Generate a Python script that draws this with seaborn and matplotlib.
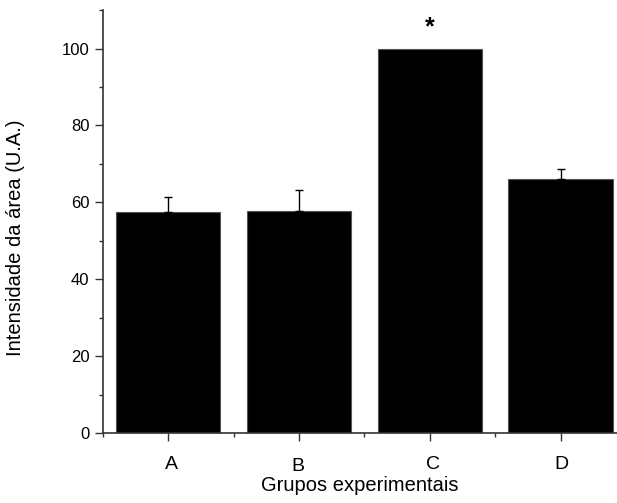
import matplotlib
matplotlib.use("Agg")
import matplotlib.pyplot as plt
import matplotlib.transforms as mtransforms
import seaborn as sns
import pandas as pd
from matplotlib.ticker import FixedLocator

groups = ["A", "B", "C", "D"]
values = [57.4, 57.7, 100.0, 66.0]
errors = [3.9, 5.5, 0.0, 2.6]

sns.set_style("ticks")
plt.rcParams["font.family"] = ["Liberation Sans", "DejaVu Sans"]
plt.rcParams["text.color"] = "black"
plt.rcParams["axes.labelcolor"] = "black"
plt.rcParams["xtick.labelcolor"] = "black"
plt.rcParams["ytick.labelcolor"] = "black"

df = pd.DataFrame({"grupo": groups, "valor": values})

fig = plt.figure(figsize=(6.17, 5.03), dpi=100)
ax = fig.add_axes([0.1664, 0.1386, 1.0 - 0.1664, 0.980 - 0.1386])

sns.barplot(data=df, x="grupo", y="valor", color="black", width=0.8,
            edgecolor="#555555", linewidth=0.8, saturation=1, ax=ax, errorbar=None)

ex = [i for i, e in enumerate(errors) if e > 0]
ey = [values[i] for i in ex]
ee = [errors[i] for i in ex]
ax.errorbar(ex, ey, yerr=[[0]*len(ee), ee],
            fmt="none", ecolor="black", elinewidth=1.0, capsize=3, capthick=1.0, zorder=5)

ax.text(2, 105.5, "*", ha="center", va="center", fontsize=18, fontweight="bold")

ax.set_ylim(0, 110)
ax.set_xlim(-0.5, 3.43)
ax.yaxis.set_major_locator(FixedLocator([0, 20, 40, 60, 80, 100]))
ax.yaxis.set_minor_locator(FixedLocator([10, 30, 50, 70, 90, 110]))
ax.xaxis.set_minor_locator(FixedLocator([-0.5, 0.5, 1.5, 2.5]))

for s in ["top", "right"]:
    ax.spines[s].set_visible(False)
for s in ["left", "bottom"]:
    ax.spines[s].set_color("#333333")
    ax.spines[s].set_linewidth(1.2)

ax.tick_params(axis="both", which="major", direction="out", length=5.5, width=1.0, color="#333333")
ax.tick_params(axis="both", which="minor", direction="out", length=3, width=1.0, color="#333333")
ax.tick_params(axis="y", labelsize=12, pad=4)
ax.tick_params(axis="x", labelsize=14, pad=10.5)

# small per-label offsets as in the reference (in points)
offsets = {"A": (2.2, 0), "B": (-0.5, -1.5), "C": (2.0, 0), "D": (0.7, 0)}
for lab in ax.get_xticklabels():
    dx, dy = offsets.get(lab.get_text(), (0, 0))
    lab.set_transform(lab.get_transform() + mtransforms.ScaledTranslation(dx / 72, dy / 72, fig.dpi_scale_trans))

ax.set_xlabel("Grupos experimentais", fontsize=14.5)
ax.set_ylabel("Intensidade da área (U.A.)", fontsize=14.5)
ax.yaxis.set_label_coords(-0.151, 0.4626)
ax.xaxis.set_label_coords(0.5, -0.1008)

fig.savefig("out.png", dpi=100)
